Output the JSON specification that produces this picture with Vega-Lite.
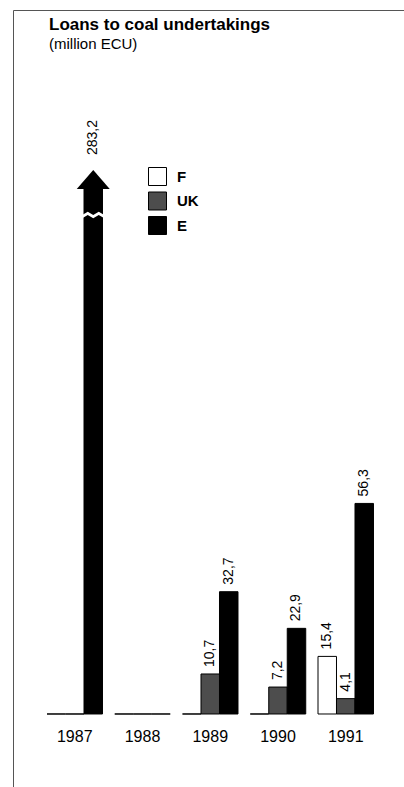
{
  "$schema": "https://vega.github.io/schema/vega-lite/v6.json",
  "width": 394.5,
  "height": 790,
  "autosize": {"type": "none"},
  "padding": {"left": 13, "top": 10, "right": 0, "bottom": 0},
  "background": "white",
  "title": {
    "text": "Loans to coal undertakings",
    "subtitle": "(million ECU)",
    "anchor": "start",
    "frame": "group",
    "orient": "top",
    "offset": -43,
    "dx": 36,
    "font": "Liberation Sans",
    "fontSize": 17,
    "fontWeight": "bold",
    "color": "black",
    "subtitleFont": "Liberation Sans",
    "subtitleFontSize": 15,
    "subtitleColor": "black",
    "subtitlePadding": 3
  },
  "data": {
    "values": [
      {"year": "1987", "series": "F", "value": 0},
      {"year": "1987", "series": "UK", "value": 0},
      {"year": "1987", "series": "E", "value": 283.2},
      {"year": "1988", "series": "F", "value": 0},
      {"year": "1988", "series": "UK", "value": 0},
      {"year": "1988", "series": "E", "value": 0},
      {"year": "1989", "series": "F", "value": 0},
      {"year": "1989", "series": "UK", "value": 10.7},
      {"year": "1989", "series": "E", "value": 32.7},
      {"year": "1990", "series": "F", "value": 0},
      {"year": "1990", "series": "UK", "value": 7.2},
      {"year": "1990", "series": "E", "value": 22.9},
      {"year": "1991", "series": "F", "value": 15.4},
      {"year": "1991", "series": "UK", "value": 4.1},
      {"year": "1991", "series": "E", "value": 56.3}
    ]
  },
  "encoding": {
    "x": {
      "field": "year",
      "type": "nominal",
      "scale": {"paddingInner": 0.181, "paddingOuter": 0.502},
      "axis": {
        "title": null,
        "domain": false,
        "ticks": false,
        "labelAngle": 0,
        "offset": -86,
        "labelPadding": 14,
        "labelFont": "Liberation Sans",
        "labelFontSize": 16,
        "labelColor": "black"
      }
    },
    "xOffset": {
      "field": "series",
      "type": "nominal",
      "sort": ["F", "UK", "E"],
      "scale": {"paddingInner": 0, "paddingOuter": 0}
    },
    "y": {
      "field": "value",
      "type": "quantitative",
      "scale": {"type": "linear", "domain": [-23, 60, 283.2], "range": [790, 479.6, 179], "nice": false, "zero": false},
      "axis": null
    }
  },
  "layer": [
    {
      "mark": {"type": "bar", "stroke": "black", "strokeWidth": 1},
      "encoding": {
        "color": {
          "field": "series",
          "type": "nominal",
          "sort": ["F", "UK", "E"],
          "scale": {"domain": ["F", "UK", "E"], "range": ["white", "#4d4d4d", "black"]},
          "legend": {
            "title": null,
            "orient": "none",
            "legendX": 135,
            "legendY": 157,
            "padding": 0,
            "symbolType": "square",
            "symbolSize": 324,
            "symbolStrokeColor": "black",
            "symbolStrokeWidth": 1,
            "symbolOpacity": 1,
            "rowPadding": 1.5,
            "labelOffset": 10,
            "labelFont": "Liberation Sans",
            "labelFontSize": 15,
            "labelFontWeight": "bold",
            "labelColor": "black"
          }
        }
      }
    },
    {
      "transform": [{"filter": "datum.value >= 200"}],
      "mark": {
        "type": "point",
        "shape": "M-1,0 L-0.5,-0.3 L0,0 L0.5,-0.3 L1,0 L1,0.3 L0.5,0 L0,0.3 L-0.5,0 L-1,0.3 Z",
        "filled": true,
        "color": "white",
        "opacity": 1,
        "size": 484,
        "yOffset": 26
      }
    },
    {
      "transform": [{"filter": "datum.value >= 200"}],
      "mark": {
        "type": "point",
        "shape": "M-1,0.576 L1,0.576 L0,-0.576 Z",
        "filled": true,
        "color": "black",
        "opacity": 1,
        "size": 1089,
        "yOffset": -9.5
      }
    },
    {
      "transform": [{"filter": "datum.value > 0 && datum.value < 200"}],
      "mark": {
        "type": "text",
        "angle": 270,
        "align": "left",
        "baseline": "middle",
        "dx": 7,
        "font": "Liberation Sans",
        "fontSize": 14,
        "color": "black"
      },
      "encoding": {"text": {"field": "value", "type": "quantitative", "format": ".1f"}}
    },
    {
      "transform": [{"filter": "datum.value >= 200"}],
      "mark": {
        "type": "text",
        "angle": 270,
        "align": "left",
        "baseline": "middle",
        "dx": 34,
        "font": "Liberation Sans",
        "fontSize": 14,
        "color": "black"
      },
      "encoding": {"text": {"field": "value", "type": "quantitative", "format": ".1f"}}
    }
  ],
  "config": {
    "view": {"stroke": "#555", "strokeWidth": 1},
    "locale": {"number": {"decimal": ",", "thousands": ".", "grouping": [3], "currency": ["", " ECU"]}}
  }
}
